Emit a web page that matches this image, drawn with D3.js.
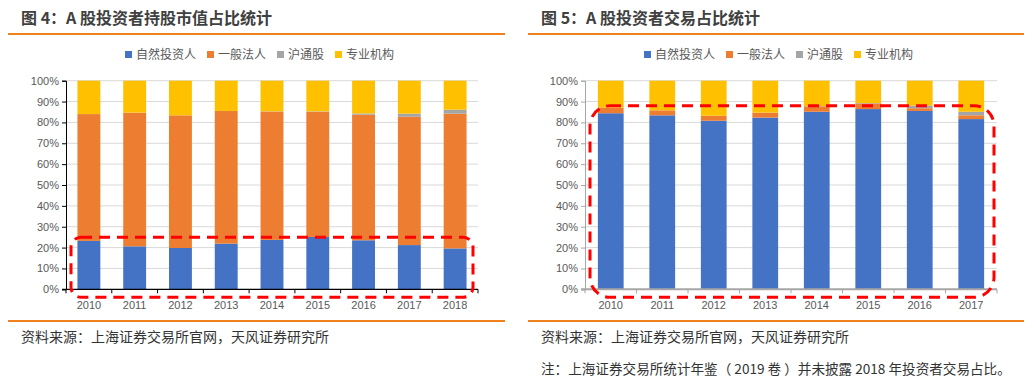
<!DOCTYPE html>
<html lang="zh">
<head>
<meta charset="UTF-8">
<title>A股投资者结构</title>
<style>
  body { margin:0; background:#fff; }
  svg { display:block; font-family:"Noto Sans CJK SC","Noto Sans",sans-serif; }
</style>
</head>
<body>
<svg width="1035" height="387"></svg>
<script src="https://d3js.org/d3.v7.min.js"></script>
<script>
// 图4：持股市值占比 (%)
var years4 = ["2010","2011","2012","2013","2014","2015","2016","2017","2018"];
var hold_ziran = [23.2, 20.6, 19.8, 21.9, 23.7, 25.1, 23.5, 21.2, 19.6];
var hold_faren = [60.8, 64.1, 63.6, 63.6, 61.5, 60.0, 60.2, 61.5, 64.6];
var hold_hutong = [0, 0, 0, 0, 0.1, 0.2, 0.6, 1.5, 1.9];
var hold_jigou = [16.0, 15.3, 16.6, 14.5, 14.7, 14.7, 15.7, 15.8, 13.9];

// 图5：交易占比 (%)
var years5 = ["2010","2011","2012","2013","2014","2015","2016","2017"];
var trade_ziran = [84.4, 83.4, 80.8, 82.3, 85.1, 86.4, 85.5, 81.6];
var trade_faren = [2.7, 2.4, 2.4, 2.4, 2.6, 2.7, 1.3, 1.8];
var trade_hutong = [0, 0, 0, 0, 0.1, 0.2, 1.2, 1.7];
var trade_jigou = [12.9, 14.2, 16.8, 15.3, 12.2, 10.7, 12.0, 14.9];

var seriesNames = ["自然投资人","一般法人","沪通股","专业机构"];
var colors = ["#4472C4","#ED7D31","#A5A5A5","#FFC000"];
var yTicks = [0,10,20,30,40,50,60,70,80,90,100];

var svg = d3.select("svg");

function drawChart(opt) {
  var g = svg.append("g");
  // 标题 + 橙色线
  g.append("text").attr("x", opt.x0 + 13).attr("y", 24)
    .attr("font-size", 16).attr("font-weight", "bold").attr("fill", "#404040")
    .text(opt.title);
  g.append("line").attr("x1", opt.x0).attr("x2", opt.x1).attr("y1", 34).attr("y2", 34)
    .attr("stroke", "#F0821E").attr("stroke-width", 2);
  g.append("line").attr("x1", opt.x0).attr("x2", opt.x1).attr("y1", 321).attr("y2", 321)
    .attr("stroke", "#F0821E").attr("stroke-width", 2);
  opt.notes.forEach(function(t, i){
    g.append("text").attr("x", opt.x0 + 13).attr("y", 342 + i*32)
      .attr("font-size", i == 0 ? 14 : 13.6).attr("fill", "#333").attr("xml:space", "preserve").text(t);
  });

  // 图例
  var lx = opt.legendX;
  var legendOffsets = [0, 82, 152, 210];
  seriesNames.forEach(function(n, i){
    var x = lx + legendOffsets[i];
    g.append("rect").attr("x", x).attr("y", 51).attr("width", 7).attr("height", 7).attr("fill", colors[i]);
    g.append("text").attr("x", x + 11).attr("y", 59).attr("font-size", 12).attr("fill", "#595959").text(n);
  });

  var x = d3.scaleBand().domain(opt.cats).range([opt.px0, opt.px1]).paddingInner(0.5).paddingOuter(0.25);
  var y = d3.scaleLinear().domain([0, 100]).range([289.3, 80.7]);

  // 网格线
  g.append("g").selectAll("line").data(yTicks.slice(1)).enter().append("line")
    .attr("x1", opt.px0).attr("x2", opt.px1)
    .attr("y1", function(d){ return y(d); }).attr("y2", function(d){ return y(d); })
    .attr("stroke", "#D9D9D9").attr("stroke-width", 1);

  // 堆叠
  var rows = opt.cats.map(function(c, i){
    var r = {cat: c};
    seriesNames.forEach(function(n, k){ r[n] = opt.series[k][i]; });
    return r;
  });
  var stacked = d3.stack().keys(seriesNames)(rows);
  g.append("g").selectAll("g").data(stacked).enter().append("g")
    .attr("fill", function(d, i){ return colors[i]; })
    .selectAll("rect").data(function(d){ return d; }).enter().append("rect")
    .attr("x", function(d){ return x(d.data.cat); })
    .attr("width", x.bandwidth())
    .attr("y", function(d){ return y(d[1]); })
    .attr("height", function(d){ return y(d[0]) - y(d[1]); });

  // y轴
  var yAxis = g.append("g").attr("transform", "translate(" + opt.px0 + ",0)")
    .call(d3.axisLeft(y).tickValues(yTicks).tickSize(4).tickFormat(function(d){ return d + "%"; }));
  yAxis.select(".domain").attr("stroke", opt.axisColor);
  yAxis.selectAll(".tick line").attr("stroke", opt.axisColor);
  yAxis.selectAll("text").attr("font-size", 11).attr("fill", "#595959")
    .attr("font-family", "'Liberation Sans',Arial,sans-serif").attr("x", -7);

  // x轴
  var xg = g.append("g").attr("transform", "translate(0," + y(0) + ")");
  xg.append("line").attr("x1", opt.px0 - 4).attr("x2", opt.px1)
    .attr("stroke", opt.axisColor).attr("stroke-width", opt.xAxisWidth);
  var bounds = opt.cats.map(function(c){ return x(c) - x.step()*0.25; }).concat([opt.px1]);
  xg.selectAll(".tk").data(bounds).enter().append("line")
    .attr("x1", function(d){ return d; }).attr("x2", function(d){ return d; })
    .attr("y1", 0).attr("y2", 4).attr("stroke", opt.axisColor);
  xg.selectAll(".lb").data(opt.cats).enter().append("text")
    .attr("x", function(d){ return x(d) + x.bandwidth()/2; }).attr("y", 20)
    .attr("text-anchor", "middle").attr("font-size", 11).attr("fill", "#595959")
    .attr("font-family", "'Liberation Sans',Arial,sans-serif")
    .text(function(d){ return d; });

  // 红色虚线框
  g.append("rect")
    .attr("x", opt.px0 + 5).attr("y", y(opt.boxTop))
    .attr("width", opt.px1 - opt.px0 - 10 + opt.boxExtra).attr("height", y(0) - y(opt.boxTop) + 8)
    .attr("rx", opt.boxR).attr("ry", opt.boxR)
    .attr("fill", "none").attr("stroke", "#FF0000").attr("stroke-width", 3)
    .attr("stroke-dasharray", "11,7");
}

drawChart({
  title: "图 4：A 股投资者持股市值占比统计",
  x0: 8, x1: 505, px0: 66, px1: 478, legendX: 125,
  cats: years4,
  series: [hold_ziran, hold_faren, hold_hutong, hold_jigou],
  axisColor: "#000", xAxisWidth: 1.2,
  boxTop: 25, boxR: 10, boxExtra: 0,
  notes: ["资料来源：上海证券交易所官网，天风证券研究所"]
});

drawChart({
  title: "图 5：A 股投资者交易占比统计",
  x0: 528, x1: 1024, px0: 585, px1: 997, legendX: 644,
  cats: years5,
  series: [trade_ziran, trade_faren, trade_hutong, trade_jigou],
  axisColor: "#A6A6A6", xAxisWidth: 2,
  boxTop: 88, boxR: 20, boxExtra: 2,
  notes: ["资料来源：上海证券交易所官网，天风证券研究所",
          "注：上海证券交易所统计年鉴（ 2019 卷 ）并未披露 2018 年投资者交易占比。"]
});
</script>
</body>
</html>
